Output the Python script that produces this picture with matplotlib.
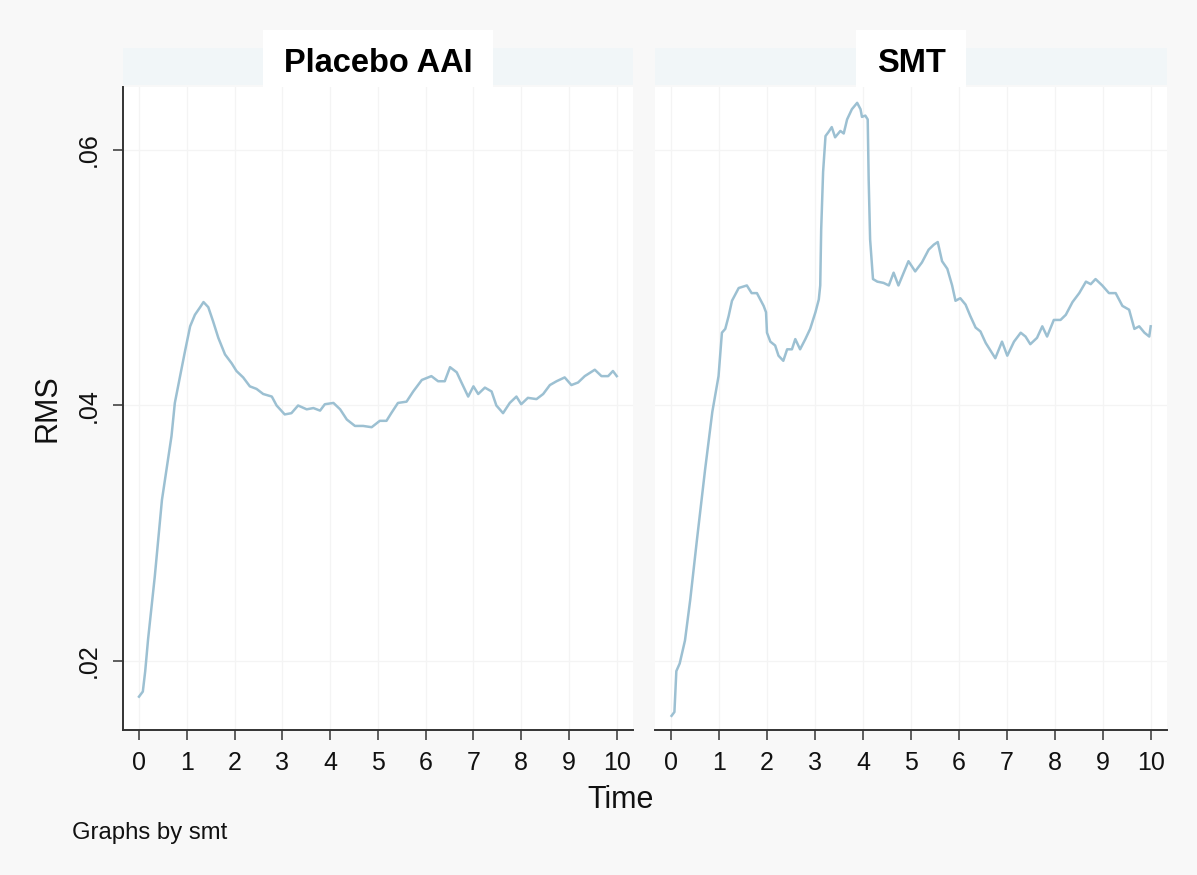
import matplotlib
matplotlib.use('Agg')
import matplotlib.pyplot as plt
from matplotlib.patches import Rectangle

# ---------------- data ----------------
panels = ['Placebo AAI', 'SMT']

placebo_time = [0.00, 0.08, 0.13, 0.19, 0.33, 0.48, 0.68, 0.75, 0.86, 0.96,
                1.07, 1.17, 1.28, 1.35, 1.45, 1.55, 1.66, 1.80, 1.94, 2.04,
                2.18, 2.32, 2.46, 2.60, 2.78, 2.88, 3.05, 3.19, 3.33, 3.51,
                3.65, 3.79, 3.89, 4.07, 4.21, 4.35, 4.52, 4.69, 4.87, 5.04,
                5.18, 5.28, 5.42, 5.60, 5.74, 5.92, 6.12, 6.26, 6.40, 6.51,
                6.65, 6.75, 6.89, 7.00, 7.10, 7.24, 7.38, 7.48, 7.62, 7.76,
                7.90, 8.00, 8.14, 8.32, 8.46, 8.60, 8.74, 8.91, 9.05, 9.19,
                9.33, 9.54, 9.68, 9.82, 9.92, 10.00]
placebo_rms = [0.0172, 0.0176, 0.0192, 0.0217, 0.0266, 0.0326, 0.0376, 0.0402, 0.0423, 0.0442,
               0.0462, 0.0471, 0.0477, 0.0481, 0.0477, 0.0466, 0.0453, 0.0440, 0.0433, 0.0427,
               0.0422, 0.0415, 0.0413, 0.0409, 0.0407, 0.0400, 0.0393, 0.0394, 0.0400, 0.0397,
               0.0398, 0.0396, 0.0401, 0.0402, 0.0397, 0.0389, 0.0384, 0.0384, 0.0383, 0.0388,
               0.0388, 0.0394, 0.0402, 0.0403, 0.0411, 0.0420, 0.0423, 0.0419, 0.0419, 0.0430,
               0.0426, 0.0418, 0.0407, 0.0415, 0.0409, 0.0414, 0.0411, 0.0400, 0.0394, 0.0402,
               0.0407, 0.0401, 0.0406, 0.0405, 0.0409, 0.0416, 0.0419, 0.0422, 0.0416, 0.0418,
               0.0423, 0.0428, 0.0423, 0.0423, 0.0427, 0.0423]

smt_time = [0.01, 0.07, 0.11, 0.18, 0.29, 0.40, 0.54, 0.71, 0.86, 0.99,
            1.06, 1.13, 1.20, 1.27, 1.41, 1.58, 1.68, 1.79, 1.93, 1.98,
            2.00, 2.07, 2.17, 2.24, 2.34, 2.42, 2.52, 2.59, 2.69, 2.80,
            2.90, 3.01, 3.08, 3.11, 3.13, 3.17, 3.22, 3.28, 3.35, 3.42,
            3.53, 3.60, 3.67, 3.77, 3.88, 3.95, 3.98, 4.05, 4.10, 4.12,
            4.15, 4.21, 4.30, 4.43, 4.54, 4.64, 4.74, 4.85, 4.95, 5.09,
            5.23, 5.37, 5.48, 5.56, 5.65, 5.76, 5.86, 5.93, 6.03, 6.14,
            6.24, 6.35, 6.45, 6.56, 6.66, 6.76, 6.90, 7.01, 7.15, 7.29,
            7.39, 7.49, 7.63, 7.74, 7.84, 7.98, 8.12, 8.23, 8.37, 8.51,
            8.65, 8.75, 8.85, 8.99, 9.13, 9.27, 9.41, 9.55, 9.66, 9.76,
            9.87, 9.97, 10.00]
smt_rms = [0.0157, 0.0160, 0.0192, 0.0198, 0.0216, 0.0248, 0.0295, 0.0350, 0.0395, 0.0423,
           0.0457, 0.0460, 0.0470, 0.0482, 0.0492, 0.0494, 0.0488, 0.0488, 0.0478, 0.0473,
           0.0457, 0.0450, 0.0447, 0.0439, 0.0435, 0.0444, 0.0444, 0.0452, 0.0444, 0.0452,
           0.0460, 0.0473, 0.0483, 0.0494, 0.0538, 0.0583, 0.0611, 0.0614, 0.0618, 0.0610,
           0.0615, 0.0613, 0.0624, 0.0632, 0.0637, 0.0632, 0.0626, 0.0627, 0.0624, 0.0577,
           0.0530, 0.0499, 0.0497, 0.0496, 0.0494, 0.0504, 0.0494, 0.0504, 0.0513, 0.0505,
           0.0512, 0.0522, 0.0526, 0.0528, 0.0513, 0.0507, 0.0494, 0.0482, 0.0484, 0.0479,
           0.0470, 0.0461, 0.0458, 0.0449, 0.0443, 0.0437, 0.0450, 0.0439, 0.0450, 0.0457,
           0.0454, 0.0448, 0.0453, 0.0462, 0.0454, 0.0467, 0.0467, 0.0471, 0.0481, 0.0488,
           0.0497, 0.0495, 0.0499, 0.0494, 0.0488, 0.0488, 0.0478, 0.0475, 0.0460, 0.0462,
           0.0457, 0.0454, 0.0462]

x_ticks = list(range(0, 11))
x_tick_labels = [str(v) for v in x_ticks]
y_ticks = [0.02, 0.04, 0.06]
y_tick_labels = ['.02', '.04', '.06']

x_label = 'Time'
y_label = 'RMS'
note = 'Graphs by smt'

# ---------------- style ----------------
plt.rcParams['font.family'] = ['Liberation Sans', 'DejaVu Sans']
W, H = 1197, 875
bg = '#f8f8f8'
strip_col = '#f1f6f8'
line_col = '#9cc0d2'
grid_col = '#f4f4f4'
spine_col = '#333333'

fig = plt.figure(figsize=(W / 100, H / 100), dpi=100, facecolor=bg)


def fx(px):
    return px / W


def fy(py):
    return (H - py) / H


ax_top, ax_bot = 87, 730
ax_lefts = [(123, 633), (655, 1167)]
series = [(placebo_time, placebo_rms), (smt_time, smt_rms)]
xlim = (-0.335, 10.34)
ylim = (0.01459, 0.06494)

axes = []
for i, ((l, r), (t, v)) in enumerate(zip(ax_lefts, series)):
    ax = fig.add_axes([fx(l), fy(ax_bot), fx(r) - fx(l), fy(ax_top) - fy(ax_bot)])
    ax.set_facecolor('white')
    ax.plot(t, v, color=line_col, lw=1.8, solid_joinstyle='round')
    ax.set_xlim(*xlim)
    ax.set_ylim(*ylim)
    ax.set_xticks(x_ticks)
    ax.set_xticklabels(x_tick_labels)
    ax.set_yticks(y_ticks)
    for x in x_ticks:
        ax.axvline(x, color=grid_col, lw=0.9, zorder=0)
    for y in y_ticks:
        ax.axhline(y, color=grid_col, lw=0.9, zorder=0)
    for s in ['top', 'right']:
        ax.spines[s].set_visible(False)
    ax.spines['bottom'].set_color(spine_col)
    ax.spines['bottom'].set_linewidth(1.4)
    ax.tick_params(axis='x', length=7, width=1.1, color=spine_col, pad=8,
                   labelsize=18, labelcolor='#111111')
    if i == 0:
        ax.spines['left'].set_color(spine_col)
        ax.spines['left'].set_linewidth(1.4)
        ax.set_yticklabels(y_tick_labels, rotation=90, va='center')
        ax.tick_params(axis='y', length=7, width=1.1, color=spine_col, pad=9,
                       labelsize=18, labelcolor='#111111')
    else:
        ax.spines['left'].set_visible(False)
        ax.tick_params(axis='y', left=False, labelleft=False)
    axes.append(ax)

    # strip
    fig.patches.append(Rectangle((fx(l), fy(85)), fx(r) - fx(l), fy(48) - fy(85),
                                 transform=fig.transFigure, facecolor=strip_col,
                                 edgecolor='none', zorder=0))

# titles with white boxes
fig.canvas.draw()
renderer = fig.canvas.get_renderer()
for (l, r), name in zip(ax_lefts, panels):
    cx = (l + r) / 2
    txt = fig.text(fx(cx), fy(72), name, ha='center', va='baseline',
                   fontsize=23.5, fontweight='bold', color='black', zorder=3)
    bb = txt.get_window_extent(renderer)
    pad = 21
    x0 = bb.x0 - pad
    w = bb.width + 2 * pad
    fig.patches.append(Rectangle((x0 / W, fy(87)), w / W, fy(30) - fy(87),
                                 transform=fig.transFigure, facecolor='white',
                                 edgecolor='none', zorder=1))

fig.text(fx(48), fy(408), y_label, rotation=90, ha='center', va='center',
         fontsize=22, color='#111111')
fig.text(fx(621), fy(800), x_label, ha='center', va='center',
         fontsize=22, color='#111111')
fig.text(fx(72), fy(833), note, ha='left', va='center',
         fontsize=17.2, color='#111111')

fig.savefig('out.png', dpi=100, facecolor=bg)
